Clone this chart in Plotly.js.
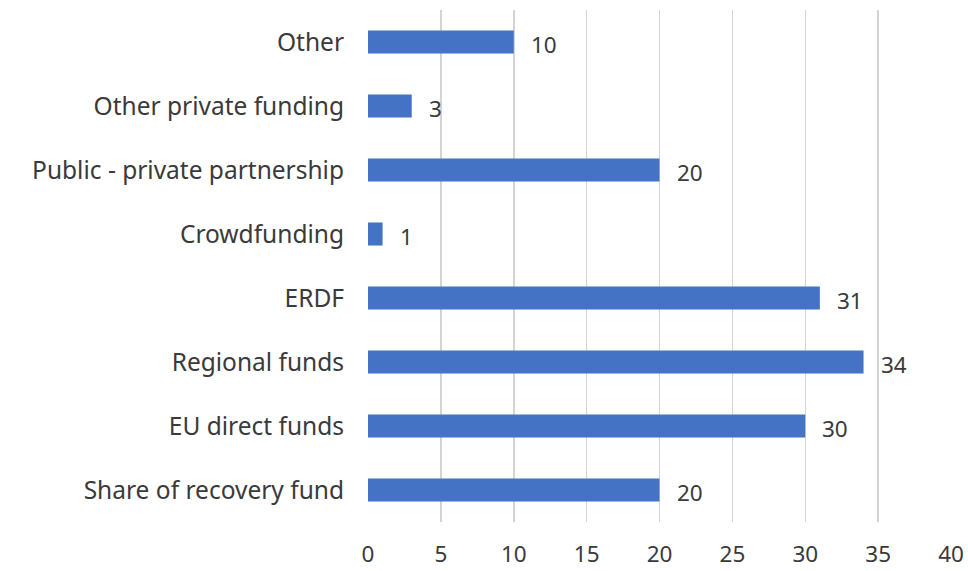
<!DOCTYPE html>
<html>
<head>
<meta charset="utf-8">
<script src="https://cdn.plot.ly/plotly-3.0.1.min.js"></script>
<style>html,body{margin:0;padding:0;background:#fff;}#chart{width:968px;height:571px;}</style>
</head>
<body>
<div id="chart"></div>
<script>
const categories = ["Share of recovery fund", "EU direct funds", "Regional funds", "ERDF", "Crowdfunding", "Public - private partnership", "Other private funding", "Other"];
const values = [20, 30, 34, 31, 1, 20, 3, 10];
const xTicks = [0, 5, 10, 15, 20, 25, 30, 35, 40];

const font = "Noto Sans, Open Sans, sans-serif";
const textColor = "#3a3a3a";

const annotations = categories.map((c, i) => ({
  x: values[i], y: c, xref: "x", yref: "y",
  text: String(values[i]), showarrow: false,
  xanchor: "left", yanchor: "middle", xshift: 15, yshift: -2,
  font: {family: font, size: 22.5, color: textColor}
}));

Plotly.newPlot("chart", [{
  type: "bar", orientation: "h",
  y: categories, x: values,
  marker: {color: "#4472C4"},
  hoverinfo: "none"
}], {
  width: 968, height: 571,
  margin: {l: 368, r: 17, t: 10, b: 49},
  paper_bgcolor: "#fff", plot_bgcolor: "#fff",
  bargap: 0.64,
  showlegend: false,
  font: {family: font, size: 22, color: textColor},
  xaxis: {
    range: [0, 40], tickvals: xTicks, ticktext: xTicks.map(String),
    showgrid: true, gridcolor: "#d4d4d4", gridwidth: 1.5,
    zeroline: false, showline: false, ticks: "",
    ticklabelstandoff: 16,
    tickfont: {family: font, size: 22.5, color: textColor},
    fixedrange: true
  },
  yaxis: {
    type: "category", categoryorder: "array", categoryarray: categories,
    showgrid: false, zeroline: false, showline: false, ticks: "",
    ticklabelstandoff: 23,
    tickfont: {family: font, size: 24.5, color: textColor},
    fixedrange: true
  },
  annotations: annotations
}, {displayModeBar: false, staticPlot: true});
</script>
</body>
</html>
